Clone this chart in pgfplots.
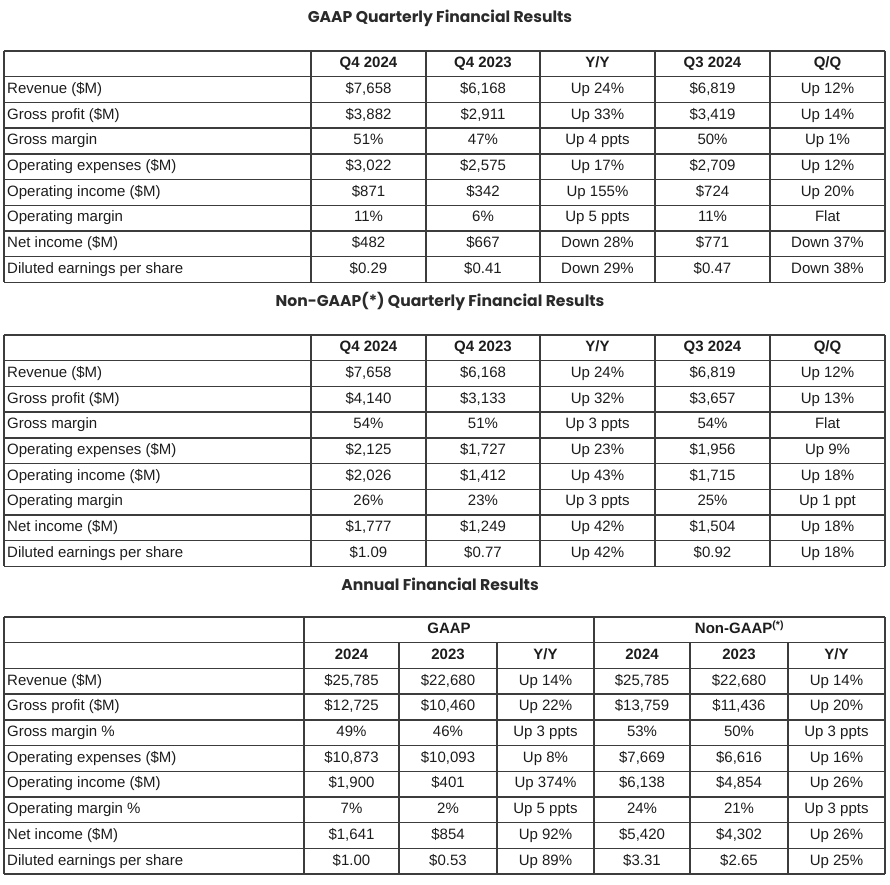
\documentclass[border=0pt]{standalone}
\usepackage{pgfplots}
\pgfplotsset{compat=1.18}
\usepackage{fontspec}
\setmainfont{Liberation Sans}
\newfontfamily\titlefont{Poppins}
\definecolor{txt}{HTML}{1C1C1C}
\definecolor{gridc}{HTML}{3C3C3C}
\definecolor{ttl}{HTML}{2A2A2A}
\newcommand\cellfont{\fontsize{15}{16}\selectfont}
\tikzset{cellnode/.style={font=\cellfont,text=txt,inner sep=0pt,text height=10.9pt,text depth=3.2pt}}
\newcommand\Lab[2]{\node[cellnode,anchor=west] at (axis cs:7,#1) {#2};}
\newcommand\Cell[3]{\node[cellnode] at (axis cs:#1,#2) {#3};}
\newcommand\HL[3]{\draw[gridc,line width=1.4pt] (axis cs:#2,#1) -- (axis cs:#3,#1);}
\newcommand\VL[3]{\draw[gridc,line width=1.4pt] (axis cs:#1,#2) -- (axis cs:#1,#3);}
% quarterly row: top, index, label, 5 values
\newcommand\QRow[8]{%
  \Lab{{#1+25.7*(#2+0.5)}}{#3}%
  \Cell{368.5}{{#1+25.7*(#2+0.5)}}{#4}%
  \Cell{483}{{#1+25.7*(#2+0.5)}}{#5}%
  \Cell{597.5}{{#1+25.7*(#2+0.5)}}{#6}%
  \Cell{712.5}{{#1+25.7*(#2+0.5)}}{#7}%
  \Cell{827.5}{{#1+25.7*(#2+0.5)}}{#8}}
% annual row: index, label, 6 values
\newcommand\ARow[8]{%
  \Lab{{617+25.7*(#1+0.5)}}{#2}%
  \Cell{351.5}{{617+25.7*(#1+0.5)}}{#3}%
  \Cell{448}{{617+25.7*(#1+0.5)}}{#4}%
  \Cell{545.5}{{617+25.7*(#1+0.5)}}{#5}%
  \Cell{642}{{617+25.7*(#1+0.5)}}{#6}%
  \Cell{739}{{617+25.7*(#1+0.5)}}{#7}%
  \Cell{836.5}{{617+25.7*(#1+0.5)}}{#8}}
% quarterly grid: top
\newcommand\QGrid[1]{%
  \HL{{#1}}{4}{885}\HL{{#1+25.7}}{4}{885}\HL{{#1+51.4}}{4}{885}\HL{{#1+77.1}}{4}{885}%
  \HL{{#1+102.8}}{4}{885}\HL{{#1+128.5}}{4}{885}\HL{{#1+154.2}}{4}{885}%
  \HL{{#1+179.9}}{4}{885}\HL{{#1+205.6}}{4}{885}\HL{{#1+231.3}}{4}{885}%
  \VL{4}{#1}{{#1+231.3}}\VL{311}{#1}{{#1+231.3}}\VL{426}{#1}{{#1+231.3}}%
  \VL{540}{#1}{{#1+231.3}}\VL{655}{#1}{{#1+231.3}}\VL{770}{#1}{{#1+231.3}}%
  \VL{885}{#1}{{#1+231.3}}}
\begin{document}
\begin{tikzpicture}
\begin{axis}[width=890pt,height=884pt,scale only axis,
  xmin=0,xmax=890,ymin=0,ymax=884,y dir=reverse,hide axis,clip=false]
\path (axis cs:0,0) rectangle (axis cs:890,884);
% ---------- titles
\node[font=\titlefont\bfseries\fontsize{15.6}{17}\selectfont,text=ttl] at (axis cs:440,18) {GAAP Quarterly Financial Results};
\node[font=\titlefont\bfseries\fontsize{15.6}{17}\selectfont,text=ttl] at (axis cs:440,301) {Non-GAAP(*) Quarterly Financial Results};
\node[font=\titlefont\bfseries\fontsize{15.6}{17}\selectfont,text=ttl] at (axis cs:440,584) {Annual Financial Results};
% ---------- grids
\QGrid{51}
\QGrid{335}
\HL{617}{4}{885}\HL{642.7}{4}{885}\HL{668.4}{4}{885}\HL{694.1}{4}{885}
\HL{719.8}{4}{885}\HL{745.5}{4}{885}\HL{771.2}{4}{885}\HL{796.9}{4}{885}
\HL{822.6}{4}{885}\HL{848.3}{4}{885}\HL{874}{4}{885}
\VL{4}{617}{874}\VL{304}{617}{874}\VL{594}{617}{874}\VL{885}{617}{874}
\VL{399}{642.7}{874}\VL{497}{642.7}{874}\VL{690}{642.7}{874}\VL{788}{642.7}{874}
% ---------- table 1
\QRow{51}{0}{}{\textbf{Q4 2024}}{\textbf{Q4 2023}}{\textbf{Y/Y}}{\textbf{Q3 2024}}{\textbf{Q/Q}}
\QRow{51}{1}{Revenue (\$M)}{\$7,658}{\$6,168}{Up 24\%}{\$6,819}{Up 12\%}
\QRow{51}{2}{Gross profit (\$M)}{\$3,882}{\$2,911}{Up 33\%}{\$3,419}{Up 14\%}
\QRow{51}{3}{Gross margin}{51\%}{47\%}{Up 4 ppts}{50\%}{Up 1\%}
\QRow{51}{4}{Operating expenses (\$M)}{\$3,022}{\$2,575}{Up 17\%}{\$2,709}{Up 12\%}
\QRow{51}{5}{Operating income (\$M)}{\$871}{\$342}{Up 155\%}{\$724}{Up 20\%}
\QRow{51}{6}{Operating margin}{11\%}{6\%}{Up 5 ppts}{11\%}{Flat}
\QRow{51}{7}{Net income (\$M)}{\$482}{\$667}{Down 28\%}{\$771}{Down 37\%}
\QRow{51}{8}{Diluted earnings per share}{\$0.29}{\$0.41}{Down 29\%}{\$0.47}{Down 38\%}
% ---------- table 2
\QRow{335}{0}{}{\textbf{Q4 2024}}{\textbf{Q4 2023}}{\textbf{Y/Y}}{\textbf{Q3 2024}}{\textbf{Q/Q}}
\QRow{335}{1}{Revenue (\$M)}{\$7,658}{\$6,168}{Up 24\%}{\$6,819}{Up 12\%}
\QRow{335}{2}{Gross profit (\$M)}{\$4,140}{\$3,133}{Up 32\%}{\$3,657}{Up 13\%}
\QRow{335}{3}{Gross margin}{54\%}{51\%}{Up 3 ppts}{54\%}{Flat}
\QRow{335}{4}{Operating expenses (\$M)}{\$2,125}{\$1,727}{Up 23\%}{\$1,956}{Up 9\%}
\QRow{335}{5}{Operating income (\$M)}{\$2,026}{\$1,412}{Up 43\%}{\$1,715}{Up 18\%}
\QRow{335}{6}{Operating margin}{26\%}{23\%}{Up 3 ppts}{25\%}{Up 1 ppt}
\QRow{335}{7}{Net income (\$M)}{\$1,777}{\$1,249}{Up 42\%}{\$1,504}{Up 18\%}
\QRow{335}{8}{Diluted earnings per share}{\$1.09}{\$0.77}{Up 42\%}{\$0.92}{Up 18\%}
% ---------- table 3
\Cell{449}{630}{\textbf{GAAP}}
\Cell{739.5}{630}{\textbf{Non-GAAP\textsuperscript{(*)}}}
\ARow{1}{}{\textbf{2024}}{\textbf{2023}}{\textbf{Y/Y}}{\textbf{2024}}{\textbf{2023}}{\textbf{Y/Y}}
\ARow{2}{Revenue (\$M)}{\$25,785}{\$22,680}{Up 14\%}{\$25,785}{\$22,680}{Up 14\%}
\ARow{3}{Gross profit (\$M)}{\$12,725}{\$10,460}{Up 22\%}{\$13,759}{\$11,436}{Up 20\%}
\ARow{4}{Gross margin \%}{49\%}{46\%}{Up 3 ppts}{53\%}{50\%}{Up 3 ppts}
\ARow{5}{Operating expenses (\$M)}{\$10,873}{\$10,093}{Up 8\%}{\$7,669}{\$6,616}{Up 16\%}
\ARow{6}{Operating income (\$M)}{\$1,900}{\$401}{Up 374\%}{\$6,138}{\$4,854}{Up 26\%}
\ARow{7}{Operating margin \%}{7\%}{2\%}{Up 5 ppts}{24\%}{21\%}{Up 3 ppts}
\ARow{8}{Net income (\$M)}{\$1,641}{\$854}{Up 92\%}{\$5,420}{\$4,302}{Up 26\%}
\ARow{9}{Diluted earnings per share}{\$1.00}{\$0.53}{Up 89\%}{\$3.31}{\$2.65}{Up 25\%}
\end{axis}
\end{tikzpicture}
\end{document}
